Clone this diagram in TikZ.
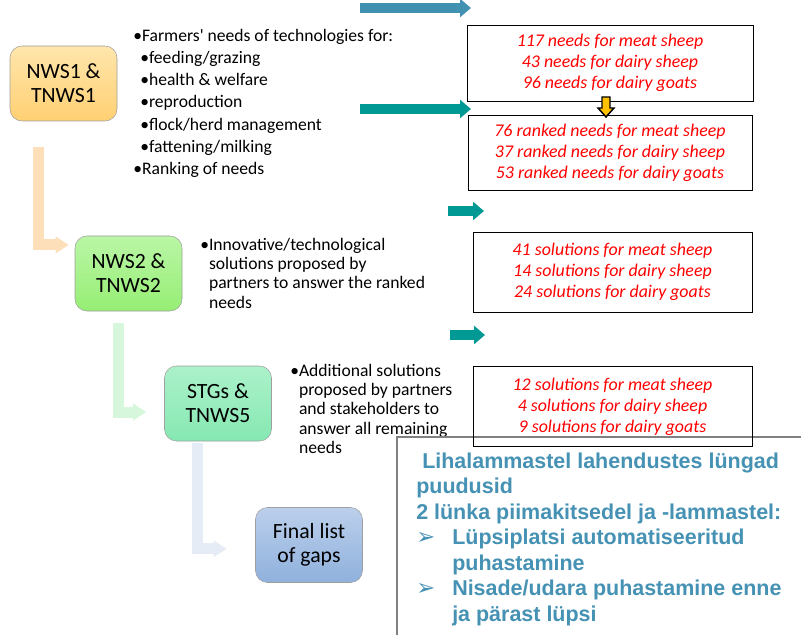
\documentclass[tikz,border=0pt]{standalone}
\usepackage{fontspec}
\setmainfont{Carlito}
\newfontfamily\panelfont{Liberation Sans}
\newfontfamily\symfont{DejaVu Sans}
\usepackage{tikz}
\usetikzlibrary{positioning,arrows.meta}

\definecolor{orangetop}{RGB}{255,230,172}
\definecolor{orangebot}{RGB}{255,208,115}
\definecolor{greentop}{RGB}{186,246,166}
\definecolor{greenbot}{RGB}{150,238,116}
\definecolor{minttop}{RGB}{172,241,202}
\definecolor{mintbot}{RGB}{134,232,178}
\definecolor{bluetop}{RGB}{188,207,235}
\definecolor{bluebot}{RGB}{143,177,221}
\definecolor{peach}{RGB}{253,224,186}
\definecolor{palegreen}{RGB}{214,247,220}
\definecolor{paleblue}{RGB}{230,236,246}
\definecolor{steelarrow}{RGB}{66,145,176}
\definecolor{tealarrow}{RGB}{0,153,148}
\definecolor{gapblue}{RGB}{70,146,180}
\definecolor{warnyellow}{RGB}{255,192,0}

\begin{document}
\begin{tikzpicture}[%
    x=0.75pt, y=-0.75pt,
    stagebox/.style={draw=gray!75, rounded corners=9pt, minimum width=80.25pt,
      minimum height=56.25pt, inner sep=0pt, align=center,
      font=\fontsize{16.3}{18}\selectfont},
    countbox/.style={draw, inner sep=0pt, align=center, text=red,
      font=\fontsize{13.4}{15.75}\selectfont\itshape},
    notes/.style={anchor=north west, inner sep=0pt, align=left},
    flow/.style={line width=8.25pt, -{Triangle[width=12pt,length=9.75pt]}},
    pointer/.style={line width=7.5pt, -{Triangle[width=13.5pt,length=8.25pt]}},
    gaptext/.style={anchor=north west, inner sep=0pt, align=left, text=gapblue,
      font=\panelfont\bfseries\fontsize{16.1}{19.1}\selectfont}
  ]
    \clip (0,0) rectangle (801,635);

    % stages
    \node[stagebox, top color=orangetop, bottom color=orangebot] (nws1) at (63.5,83.5) {NWS1 \&\\TNWS1};
    \node[stagebox, top color=greentop, bottom color=greenbot] (nws2) at (128.5,273.5) {NWS2 \&\\TNWS2};
    \node[stagebox, top color=minttop, bottom color=mintbot] (stgs) at (218,403.5) {STGs \&\\TNWS5};
    \node[stagebox, top color=bluetop, bottom color=bluebot] (final) at (309,545) {Final list\\of gaps};

    \draw[flow, peach] ([xshift=-18.4pt,yshift=-19.5pt]nws1.south) |- ([xshift=-4.5pt]nws2.152);
    \draw[flow, palegreen] ([xshift=-7.5pt,yshift=-9pt]nws2.south) |- ([xshift=-13.5pt]stgs.189);
    \draw[flow, paleblue] ([xshift=-15.75pt,yshift=-1.5pt]stgs.south) |- ([xshift=-21.4pt]final.184);

    % what each stage gave
    \node[notes, font=\fontsize{13.2}{16.6}\selectfont] (n1) at (133,29) {%
      •Farmers\textquotesingle{} needs of technologies for:\\
      \hspace*{5.25pt}•feeding/grazing\\
      \hspace*{5.25pt}•health \& welfare\\
      \hspace*{5.25pt}•reproduction\\
      \hspace*{5.25pt}•flock/herd management\\
      \hspace*{5.25pt}•fattening/milking\\
      •Ranking of needs};
    \node[notes, font=\fontsize{13.2}{14.4}\selectfont] (n2) at (200,238) {%
      •Innovative/technological\\
      \phantom{•}solutions proposed by\\
      \phantom{•}partners to answer the ranked\\
      \phantom{•}needs};
    \node[notes, font=\fontsize{13.2}{14.4}\selectfont] (n3) at (290,364) {%
      •Additional solutions\\
      \phantom{•}proposed by partners\\
      \phantom{•}and stakeholders to\\
      \phantom{•}answer all remaining\\
      \phantom{•}needs};

    \coordinate (t1a) at (360,8);   \coordinate (t1b) at (471,8);
    \coordinate (t2a) at (360,109); \coordinate (t2b) at (471,109);
    \coordinate (t3a) at (448,211); \coordinate (t3b) at (484,211);
    \coordinate (t4a) at (450,335); \coordinate (t4b) at (485,335);
    \draw[pointer, steelarrow] (t1a) -- (t1b);
    \draw[pointer, tealarrow] (t2a) -- (t2b);
    \draw[pointer, tealarrow] (t3a) -- (t3b);
    \draw[pointer, tealarrow] (t4a) -- (t4b);

    % counts
    \node[countbox, minimum width=214.5pt, minimum height=57pt] (b1) at (610,63) {117 needs for meat sheep\\43 needs for dairy sheep\\96 needs for dairy goats};
    \node[countbox, minimum width=213pt, minimum height=56.25pt, below=10.5pt of b1] (b2) {76 ranked needs for meat sheep\\37 ranked needs for dairy sheep\\53 ranked needs for dairy goats};
    \draw[fill=warnyellow, line width=1.1pt] (602,97) -- (610,97) -- (610,108) -- (614,108) -- (606,117) -- (598,108) -- (602,108) -- cycle;
    \node[countbox, minimum width=209.25pt, minimum height=60pt] (b3) at (612.5,272) {41 solutions for meat sheep\\14 solutions for dairy sheep\\24 solutions for dairy goats};

    % gaps panel
    \draw[draw=gray, line width=1.5pt, fill=white] (397,437) rectangle (810,645);
    \node[countbox, minimum width=209.25pt, minimum height=60pt, below=40.5pt of b3] (b4) {12 solutions for meat sheep\\4 solutions for dairy sheep\\9 solutions for dairy goats};
    \node[gaptext] (gaps) at (416,452.5) {%
      \hspace*{4.5pt}Lihalammastel lahendustes lüngad\\
      puudusid\\
      2 lünka piimakitsedel ja -lammastel:\\
      \makebox[27pt][l]{\symfont\mdseries\fontsize{17}{19.1}\selectfont ➢}Lüpsiplatsi automatiseeritud\\
      \hspace*{27pt}puhastamine\\
      \makebox[27pt][l]{\symfont\mdseries\fontsize{17}{19.1}\selectfont ➢}Nisade/udara puhastamine enne\\
      \hspace*{27pt}ja pärast lüpsi};
\end{tikzpicture}
\end{document}
